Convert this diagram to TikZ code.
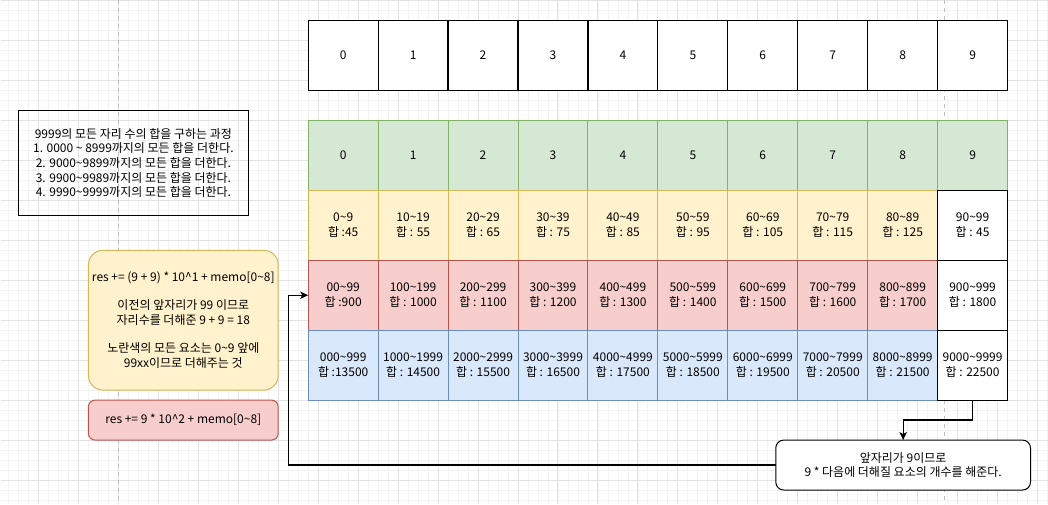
\documentclass[tikz,border=0pt]{standalone}
\usepackage{fontspec}
\setmainfont{Noto Sans CJK KR}
\usetikzlibrary{positioning,arrows.meta}

\definecolor{gridmaj}{HTML}{E2E2E2}
\definecolor{gridmin}{HTML}{F3F3F3}
\definecolor{greenfill}{HTML}{D5E8D4}
\definecolor{greenline}{HTML}{82B366}
\definecolor{yellowfill}{HTML}{FFF2CC}
\definecolor{yellowline}{HTML}{D6B656}
\definecolor{redfill}{HTML}{F8CECC}
\definecolor{redline}{HTML}{B85450}
\definecolor{bluefill}{HTML}{DAE8FC}
\definecolor{blueline}{HTML}{6C8EBF}

\newcommand{\tld}{\textasciitilde}

\begin{document}
\begin{tikzpicture}[
    x=0.75pt, y=-0.75pt,
    font=\fontsize{9}{11}\selectfont,
    node distance=0pt,
    cell/.style={draw, line width=0.75pt, minimum width=52.5pt, minimum height=52.5pt,
                 inner sep=1pt, outer sep=0pt, align=center},
    digit/.style={cell, fill=white, draw=black, line width=0.9pt},
    idx/.style={cell, fill=greenfill, draw=greenline},
    ones/.style={cell, fill=yellowfill, draw=yellowline},
    tens/.style={cell, fill=redfill, draw=redline},
    hund/.style={cell, fill=bluefill, draw=blueline},
    last/.style={cell, fill=white, draw=black, line width=0.9pt},
    memo/.style={draw, line width=0.75pt, align=center, outer sep=0pt, inner sep=2pt},
    >={Stealth[length=6pt, width=5.5pt, inset=1.5pt]}
]
    % background grid of the canvas
    \fill[white] (0,0) rectangle (1048,504);
    \foreach \gx in {8,18,...,1048} \draw[gridmin, line width=0.6pt] (\gx,0) -- (\gx,504);
    \foreach \gy in {10,20,...,500} \draw[gridmin, line width=0.6pt] (0,\gy) -- (1048,\gy);
    \foreach \gx in {38,78,...,1038} \draw[gridmaj, line width=0.75pt] (\gx,0) -- (\gx,504);
    \foreach \gy in {0,40,...,480} \draw[gridmaj, line width=0.75pt] (0,\gy) -- (1048,\gy);
    \foreach \gx in {118,945} \draw[black!25, dashed, line width=0.75pt] (\gx,0) -- (\gx,504);
    \useasboundingbox (0,0) rectangle (1048,504);

    % index row on top
    \node[digit] (top0) at (343,55) {0};
    \foreach \i [remember=\i as \j (initially 0)] in {1,...,9}
        \node[digit, right=of top\j] (top\i) {\i};

    % green index row
    \node[idx] (idx0) at (343,155) {0};
    \foreach \i [remember=\i as \j (initially 0)] in {1,...,9}
        \node[idx, right=of idx\j] (idx\i) {\i};

    % yellow row
    \foreach \r/\s [count=\i from 0] in {0\tld9/합 :45, 10\tld19/합 : 55, 20\tld29/합 : 65,
            30\tld39/합 : 75, 40\tld49/합 : 85, 50\tld59/합 : 95, 60\tld69/합 : 105,
            70\tld79/합 : 115, 80\tld89/합 : 125}
        \node[ones] (ones\i) at (343+70*\i,225) {\r\\\s};
    \node[last] (ones9) at (973,225) {90\tld99\\합 : 45};

    % red row
    \foreach \r/\s [count=\i from 0] in {00\tld99/합 :900, 100\tld199/합 : 1000,
            200\tld299/합 : 1100, 300\tld399/합 : 1200, 400\tld499/합 : 1300,
            500\tld599/합 : 1400, 600\tld699/합 : 1500, 700\tld799/합 : 1600,
            800\tld899/합 : 1700}
        \node[tens] (tens\i) at (343+70*\i,295) {\r\\\s};
    \node[last] (tens9) at (973,295) {900\tld999\\합 : 1800};

    % blue row
    \foreach \r/\s [count=\i from 0] in {000\tld999/합 :13500, 1000\tld1999/합 : 14500,
            2000\tld2999/합 : 15500, 3000\tld3999/합 : 16500, 4000\tld4999/합 : 17500,
            5000\tld5999/합 : 18500, 6000\tld6999/합 : 19500, 7000\tld7999/합 : 20500,
            8000\tld8999/합 : 21500}
        \node[hund] (hund\i) at (343+70*\i,365) {\r\\\s};
    \node[last] (hund9) at (973,365) {9000\tld9999\\합 : 22500};

    % notes on the left
    \node[memo, draw=black, line width=0.9pt, minimum width=172.5pt, minimum height=78.75pt]
        (steps) at (133,162.5) {9999의 모든 자리 수의 합을 구하는 과정\\
        1. 0000 \tld{} 8999까지의 모든 합을 더한다.\\
        2. 9000\tld9899까지의 모든 합을 더한다.\\
        3. 9900\tld9989까지의 모든 합을 더한다.\\
        4. 9990\tld9999까지의 모든 합을 더한다.};
    \node[memo, fill=yellowfill, draw=yellowline, rounded corners=11pt,
          minimum width=142.5pt, minimum height=105pt] (tensnote) at (183,320)
        {res += (9 + 9) * 10\textasciicircum1 + memo[0\tld8]\\[10pt]
         이전의 앞자리가 99 이므로\\자리수를 더해준 9 + 9 = 18\\[10pt]
         노란색의 모든 요소는 0\tld9 앞에\\99xx이므로 더해주는 것};
    \node[memo, fill=redfill, draw=redline, rounded corners=5pt,
          minimum width=142.5pt, minimum height=30pt] (hundnote) at (183,420)
        {res += 9 * 10\textasciicircum2 + memo[0\tld8]};

    % callout below the grid
    \node[memo, fill=white, draw=black, rounded corners=6pt,
          minimum width=191.25pt, minimum height=37.5pt] (note) at (903.5,465)
        {앞자리가 9이므로\\9 * 다음에 더해질 요소의 개수를 해준다.};

    \draw[->, line width=0.9pt] (hund9.south) -- ++(0,20) -| (note.north);
    \draw[->, line width=0.9pt] (note.west) -- ++(-488,0) |- (tens0.west);
\end{tikzpicture}
\end{document}
